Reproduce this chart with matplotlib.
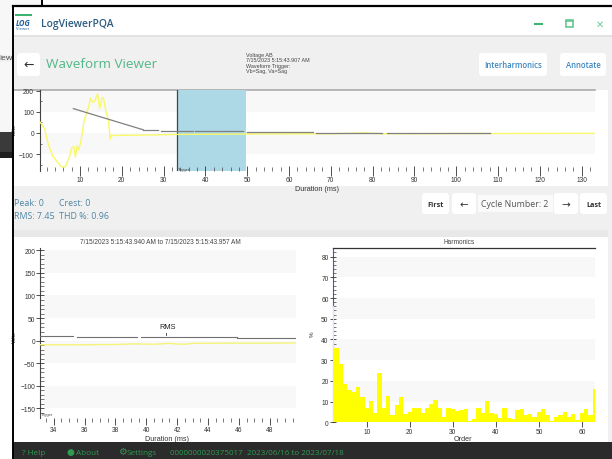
import matplotlib
matplotlib.use("Agg")
import matplotlib.pyplot as plt
from matplotlib.patches import Rectangle, FancyBboxPatch

W, H = 612, 460

# ---- data ----
wave_t = [0.5, 1.5, 2.5, 3.5, 4.5, 5.5, 6.5, 7.5, 8.0, 8.5, 8.9, 9.3, 9.7, 10.2, 11, 12, 12.5, 13, 13.5, 14.2, 14.7, 15.2, 15.6, 16.2, 16.8, 17.2, 17.5, 18, 25, 33, 50, 70, 78, 82, 100, 133]
wave_v = [50, 20, -60, -110, -135, -160, -160, -110, -70, -65, -115, -60, -80, -40, 60, 120, 165, 145, 150, 185, 115, 165, 165, 100, 60, -30, -12, -12, -10, -7, -5, -4, 0, -4, -3, -2]
rms_segments = [([8.4, 25.1], [115, 15]), ([25.1, 28.7], [15, 15]), ([29.4, 37], [11, 11]), ([37.5, 49], [8, 8]),
                ([50, 65.7], [6.5, 6.5]), ([66.5, 82.3], [2, 2]), ([83.4, 108], [0, 0])]
trigger_start, trigger_end = 33.2, 49.7
wave_ticks = list(range(10, 131, 10))
zoom_t = [33.1, 34, 36, 38, 39.3, 39.7, 40.5, 41.5, 42, 42.5, 43, 45, 48, 49.7]
zoom_v = [-9, -9, -9, -8.5, -7, -7.5, -8, -6, -7.5, -8, -6, -5.5, -5.5, -5]
zoom_rms = [([33.08, 35.24], [10.4, 10.4]), ([35.5, 39.4], [8.2, 8.2]), ([39.65, 45.9], [8, 8]), ([45.9, 49.7], [6, 6])]
zoom_ticks = [34, 36, 38, 40, 42, 44, 46, 48]
orders = list(range(2, 64))
harm = [56, 36, 28, 18.5, 15.5, 14.5, 17, 12, 7, 10.5, 4.5, 24, 7, 12.5, 3.5, 8.5, 12, 4, 5, 7, 6.8, 4.5, 7, 8.7, 11, 6.7,
        2.7, 7, 6.5, 5.5, 6, 6.5, 0.5, 1.8, 7, 4.5, 10.5, 4.5, 4, 2, 7, 2, 1.8, 5.8, 6.3, 3.7, 3.8, 2.5, 5, 6.3, 3.5, 0.7,
        2.8, 3.5, 4.8, 2.5, 3.8, 1.3, 4.7, 6.3, 3.5, 16]

plt.rcParams['font.family'] = ['Open Sans', 'DejaVu Sans']
fig = plt.figure(figsize=(W / 100, H / 100), dpi=100, facecolor='white')

bg = fig.add_axes([0, 0, 1, 1])
bg.set_xlim(0, W); bg.set_ylim(H, 0); bg.axis('off')
def rect(x, y, w, h, c, z=1):
    bg.add_patch(Rectangle((x, y), w, h, fc=c, ec='none', zorder=z))
def btn(x, y, w, h, z=3):
    bg.add_patch(FancyBboxPatch((x + 3, y + 3), w - 6, h - 6, boxstyle="round,pad=3", fc='white', ec='none', zorder=z))

# outside window
rect(0, 0, 41, 133, '#f7f7f7')
rect(0, 56, 13, 7, '#f0f0f0')
rect(0, 133, 13, 20, '#3a3a3a')
rect(0, 153, 13, 6, '#1f1f1f')
bg.text(-1, 59, 'iew', fontsize=6, color='#444444', va='center', ha='left')
# window
rect(13, 7, W - 13, H - 7, '#f0f0f0')
rect(13, 8, W - 13, 28, 'white', 2)
rect(13, 36, W - 13, 1.5, '#e2e2e2', 2)
bg.plot([13, W], [7, 7], color='black', lw=1.6, zorder=6)
bg.plot([41.5, 41.5], [0, 7], color='black', lw=1.4, zorder=6)
bg.plot([13, 13], [7, H], color='black', lw=1.4, zorder=6)
# logo
rect(15, 15, 17, 1.6, '#3cb371', 3)
bg.text(23, 23, 'LOG', fontsize=5.5, fontweight='bold', style='italic', color='#1f5f9e', ha='center', va='center', zorder=4)
bg.text(23, 29, 'Viewer', fontsize=3, color='#1f5f9e', ha='center', va='center', zorder=4)
bg.text(41, 24.5, 'LogViewerPQA', fontsize=7.4, fontweight='semibold', color='#2c5d80', va='center', zorder=4)
# window controls
bg.plot([534.5, 542], [24.5, 24.5], color='#3cb371', lw=1.5, zorder=4)
bg.add_patch(Rectangle((565.5, 21), 7, 7, fc='none', ec='#5cc48a', lw=1.1, zorder=4))
bg.plot([565.5, 572.5], [22.2, 22.2], color='#5cc48a', lw=1.1, zorder=4)
bg.text(600, 24.5, '✕', fontsize=7, color='#66cc99', ha='center', va='center', family='DejaVu Sans', zorder=4)
# header row
btn(17, 54, 23, 23)
bg.text(28.5, 65, '←', fontsize=9, color='#333333', ha='center', va='center', family='DejaVu Sans', zorder=4)
bg.text(46, 65, 'Waveform Viewer', fontsize=9.7, color='#52b788', va='center', zorder=4)
for i, s in enumerate(['Voltage AB', '7/15/2023 5:15:43.907 AM', 'Waveform Trigger:', 'Vb=Sag, Va=Sag']):
    bg.text(246.5, 55.5 + i * 5.4, s, fontsize=3.9, color='#444444', va='center', zorder=4, family='Liberation Sans')
btn(479, 54, 68, 23)
bg.text(513, 66, 'Interharmonics', fontsize=5.6, fontweight='semibold', color='#3a86c0', ha='center', va='center', zorder=4)
btn(560, 54, 46, 23)
bg.text(583, 66, 'Annotate', fontsize=5.6, fontweight='semibold', color='#3a86c0', ha='center', va='center', zorder=4)
# white plot panels
rect(14, 91, 594, 96, 'white', 2)
rect(14, 238, 594, 205, 'white', 2)
rect(14, 231, 594, 7, '#e8e8e8', 2)
bg.plot([14, 595], [90.5, 90.5], color='#aaaaaa', lw=1.2, zorder=4)
# stats
for x, y, s in [(13.5, 204, 'Peak: 0'), (59, 204, 'Crest: 0'), (13.5, 216.5, 'RMS: 7.45'), (59, 216.5, 'THD %: 0.96')]:
    bg.text(x, y, s, fontsize=6.4, color='#4f86a3', va='center', zorder=4)
# cycle nav
btn(422, 194, 27, 21)
bg.text(435.5, 205.7, 'First', fontsize=5.2, fontweight='bold', color='#333333', ha='center', va='center', zorder=4)
btn(452, 194, 24, 21)
bg.text(464, 205, '←', fontsize=7.5, color='#333333', ha='center', va='center', family='DejaVu Sans', zorder=4)
rect(478, 196, 75, 17, '#fafafa', 3)
bg.text(515, 205, 'Cycle Number: 2', fontsize=6.3, color='#555555', ha='center', va='center', zorder=4)
btn(554, 194, 24, 21)
bg.text(566, 205, '→', fontsize=7.5, color='#333333', ha='center', va='center', family='DejaVu Sans', zorder=4)
btn(580, 194, 27, 21)
bg.text(593.5, 205.7, 'Last', fontsize=5.2, fontweight='bold', color='#333333', ha='center', va='center', zorder=4)
# footer
rect(13, 443, W - 13, 17, '#2b2b2b', 3)
G = '#2e9a52'
bg.text(22, 453.3, '? Help', fontsize=5.9, color=G, va='center', zorder=4)
bg.text(70.5, 452.5, '●', fontsize=6.5, color=G, va='center', ha='center', family='DejaVu Sans', zorder=4)
bg.text(76, 453.3, 'About', fontsize=5.9, color=G, va='center', zorder=4)
bg.text(122.5, 452.5, '⚙', fontsize=7, color=G, va='center', ha='center', family='DejaVu Sans', zorder=4)
bg.text(127, 453.3, 'Settings', fontsize=5.9, color=G, va='center', zorder=4)
bg.text(170, 453.3, '0000000020375017  2023/06/16 to 2023/07/18', fontsize=5.75, color=G, va='center', zorder=4)
bg.set_zorder(0)

# axis captions placed as in the app
CAP = dict(color='#333333', ha='center', va='center', zorder=4, family='Liberation Sans')
bg.text(317, 189.3, 'Duration (ms)', fontsize=5.2, **CAP)
bg.text(167.3, 440, 'Duration (ms)', fontsize=5.2, **CAP)
bg.text(463, 440, 'Order', fontsize=5.2, **CAP)
bg.text(160, 242.3, '7/15/2023 5:15:43.940 AM to 7/15/2023 5:15:43.957 AM', fontsize=4.7, **{**CAP, 'color': '#444444'})
bg.text(458.7, 242.3, 'Harmonics', fontsize=4.7, **{**CAP, 'color': '#444444'})
bg.text(14, 130, 'Volts', fontsize=3.8, rotation=90, **CAP)
bg.text(14, 336.7, 'Volts', fontsize=3.8, rotation=90, **CAP)
bg.text(312, 334, '%', fontsize=4.5, rotation=90, **CAP)


def mk_axes(l, r, t, b):
    ax = fig.add_axes([l / W, 1 - b / H, (r - l) / W, (b - t) / H])
    ax.patch.set_alpha(0)
    ax.set_zorder(2)
    ax.set_axisbelow(False)
    for s in ['right', 'bottom', 'top']:
        ax.spines[s].set_visible(False)
    ax.spines['left'].set_color('#444444')
    ax.spines['left'].set_linewidth(0.8)
    return ax


def tick_style(ax):
    ax.tick_params(axis='both', which='major', labelsize=4.8, labelcolor='#333333', color='#333333', width=0.6)
    ax.tick_params(axis='both', which='minor', color='#444444', width=0.5)
    for t in ax.get_xticklabels() + ax.get_yticklabels():
        t.set_family('Liberation Sans')


def bands(ax, edges, xmin=0.0):
    for a, b in edges:
        ax.axhspan(a, b, xmin=xmin, color='#f8f8f8', lw=0, zorder=0)


# ---- top waveform ----
ax1 = mk_axes(39.5, 595, 91, 172)
ax1.set_xlim(0.3, 133.2); ax1.set_ylim(-180, 203)
bands(ax1, [(100, 200), (-100, 0)])
ax1.axvspan(trigger_start, trigger_end, color='#add8e6', lw=0, zorder=1)
ax1.axvline(trigger_start, color='#444444', lw=0.9, zorder=2)
ax1.plot(wave_t, wave_v, color='#f8f868', lw=1.0, zorder=3)
for xs, ys in rms_segments:
    ax1.plot(xs, ys, color='#808080', lw=0.9, zorder=4)
ax1.text(33.5, -172, 'Trigger', fontsize=2.8, color='#444444', va='center', family='Liberation Sans')
ax1.set_xticks(wave_ticks)
ax1.set_xticks([x for x in range(2, 134, 2) if x % 10], minor=True)
ax1.set_yticks([-100, 0, 100, 200])
ax1.set_yticks([-150, -50, 50, 150], minor=True)
tick_style(ax1)
ax1.tick_params(axis='x', which='major', direction='inout', length=6.5, pad=0.5)
ax1.tick_params(axis='x', which='minor', direction='in', length=2.8)
ax1.tick_params(axis='y', which='major', direction='out', length=3, pad=1)
ax1.tick_params(axis='y', which='minor', direction='in', length=1.5)

# ---- zoomed cycle ----
ax2 = mk_axes(39.5, 296, 249, 418.5)
ax2.set_xlim(33.08, 49.7); ax2.set_ylim(-170, 205)
bands(ax2, [(150, 200), (50, 100), (-50, 0), (-150, -100)], xmin=4 / 256.5)
ax2.plot(zoom_t, zoom_v, color='#f4f47a', lw=1.0, zorder=3)
for xs, ys in zoom_rms:
    ax2.plot(xs, ys, color='#707070', lw=0.8, zorder=4)
ax2.text(41.4, 31, 'RMS', fontsize=5.3, color='#222222', ha='center', va='center', family='Liberation Sans')
ax2.plot([41.3, 41.3], [13, 17], color='#333333', lw=0.6, zorder=4)
ax2.text(33.2, -167, 'Trigger', fontsize=2.8, color='#444444', va='bottom', family='Liberation Sans')
ax2.set_xticks(zoom_ticks)
ax2.set_xticks([x / 2 for x in range(67, 100) if x % 4], minor=True)
ax2.set_yticks([-150, -100, -50, 0, 50, 100, 150, 200])
ax2.set_yticks([y for y in range(-160, 201, 10) if y % 50], minor=True)
tick_style(ax2)
ax2.tick_params(axis='x', which='major', direction='out', length=5, pad=1)
ax2.tick_params(axis='x', which='minor', direction='out', length=2.8)
ax2.tick_params(axis='y', which='major', direction='inout', length=5.3, pad=0.5)
ax2.tick_params(axis='y', which='minor', direction='in', length=2.9)

# ---- harmonics ----
ax3 = mk_axes(332.7, 595.3, 249.3, 423.3)
ax3.set_xlim(2.1, 63.1); ax3.set_ylim(0, 84)
bands(ax3, [(70, 80), (50, 60), (30, 40), (10, 20)])
ax3.bar(orders, harm, width=1.0, color='#ffff00', lw=0, zorder=3)
ax3.set_xticks(range(10, 61, 10))
ax3.set_yticks(range(0, 81, 10))
ax3.set_yticks([y for y in range(2, 84, 2) if y % 10], minor=True)
tick_style(ax3)
ax3.tick_params(axis='x', which='major', direction='inout', length=6.5, pad=0.5)
ax3.tick_params(axis='y', which='major', direction='inout', length=5, pad=0.5)
ax3.tick_params(axis='y', which='minor', direction='in', length=2)
ax3.spines['top'].set_visible(True)
ax3.spines['top'].set_color('#333333'); ax3.spines['top'].set_linewidth(0.9)
ax3.spines['left'].set_color('#5555aa')

fig.savefig('out.png', dpi=100)
